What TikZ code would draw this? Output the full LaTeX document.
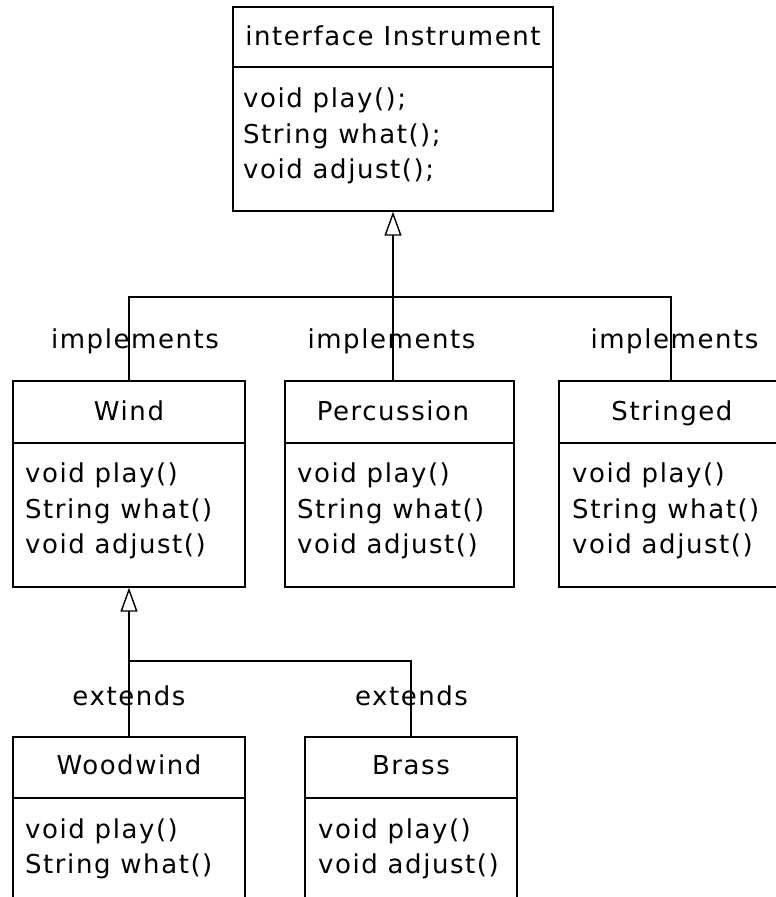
\documentclass[tikz,border=0pt]{standalone}
\usepackage{fontspec}
\setmainfont{DejaVu Sans}[LetterSpace=6]
\usetikzlibrary{arrows.meta}
\tikzset{
  box/.style={draw=black, line width=1.4pt, fill=white, inner sep=0pt, rectangle},
  txt/.style={font=\fontsize{26}{30}\selectfont, inner sep=0pt, text=black},
  conn/.style={draw=black, line width=1.4pt},
  gen/.style={conn, -{Triangle[open, length=24pt, width=17pt, line width=1.4pt]}}
}
\begin{document}
\begin{tikzpicture}[x=1pt, y=-1pt]
\useasboundingbox (0,0) rectangle (776,897);
\clip (0,0) rectangle (776,897);
% boxes
\node[box, minimum width=320pt, minimum height=204pt] (inst) at (393,109) {};
\node[box, minimum width=232pt, minimum height=206pt] (wind) at (129,484) {};
\node[box, minimum width=229pt, minimum height=206pt] (perc) at (399.5,484) {};
\node[box, minimum width=224pt, minimum height=206pt] (str) at (671,484) {};
\node[box, minimum width=232pt, minimum height=223pt] (wood) at (129,848.5) {};
\node[box, minimum width=212pt, minimum height=223pt] (brass) at (411,848.5) {};
% dividers
\draw[conn] (inst.west |- 0,67) -- (inst.east |- 0,67);
\draw[conn] (wind.west |- 0,443) -- (wind.east |- 0,443);
\draw[conn] (perc.west |- 0,443) -- (perc.east |- 0,443);
\draw[conn] (str.west |- 0,443) -- (str.east |- 0,443);
\draw[conn] (wood.west |- 0,798) -- (wood.east |- 0,798);
\draw[conn] (brass.west |- 0,798) -- (brass.east |- 0,798);
% titles
\node[txt, anchor=base] (instT) at (393,45) {interface Instrument};
\node[txt, anchor=base] (windT) at (129,420) {Wind};
\node[txt, anchor=base] (percT) at (393,420) {Percussion};
\node[txt, anchor=base] (strT) at (672,420) {Stringed};
\node[txt, anchor=base] (woodT) at (129,774) {Woodwind};
\node[txt, anchor=base] (brassT) at (411,774) {Brass};
% members
\node[txt, anchor=base west] (i1) at (243,107) {void play();};
\node[txt, anchor=base west] (i2) at (243,143) {String what();};
\node[txt, anchor=base west] (i3) at (243,178) {void adjust();};
\node[txt, anchor=base west] (w1) at (25,482) {void play()};
\node[txt, anchor=base west] (w2) at (25,518) {String what()};
\node[txt, anchor=base west] (w3) at (25,553) {void adjust()};
\node[txt, anchor=base west] (p1) at (297,482) {void play()};
\node[txt, anchor=base west] (p2) at (297,518) {String what()};
\node[txt, anchor=base west] (p3) at (297,553) {void adjust()};
\node[txt, anchor=base west] (s1) at (572,482) {void play()};
\node[txt, anchor=base west] (s2) at (572,518) {String what()};
\node[txt, anchor=base west] (s3) at (572,553) {void adjust()};
\node[txt, anchor=base west] (o1) at (25,838) {void play()};
\node[txt, anchor=base west] (o2) at (25,873) {String what()};
\node[txt, anchor=base west] (b1) at (318,838) {void play()};
\node[txt, anchor=base west] (b2) at (318,873) {void adjust()};
% connectors
\coordinate (jI) at (393,297);
\coordinate (jE) at (129,661);
\draw[gen] (perc.north -| inst.south) -- (inst.south);
\draw[conn] (wind.north) -- (wind.north |- jI) -- (str.north |- jI) -- (str.north);
\draw[gen] (wood.north) -- (wind.south);
\draw[conn] (jE) -- (brass.north |- jE) -- (brass.north);
% labels
\node[txt, anchor=base] (l1) at (135,348) {implements};
\node[txt, anchor=base] (l2) at (391.5,348) {implements};
\node[txt, anchor=base] (l3) at (674.5,348) {implements};
\node[txt, anchor=base] (l4) at (129,705) {extends};
\node[txt, anchor=base] (l5) at (411.5,705) {extends};
\end{tikzpicture}
\end{document}
